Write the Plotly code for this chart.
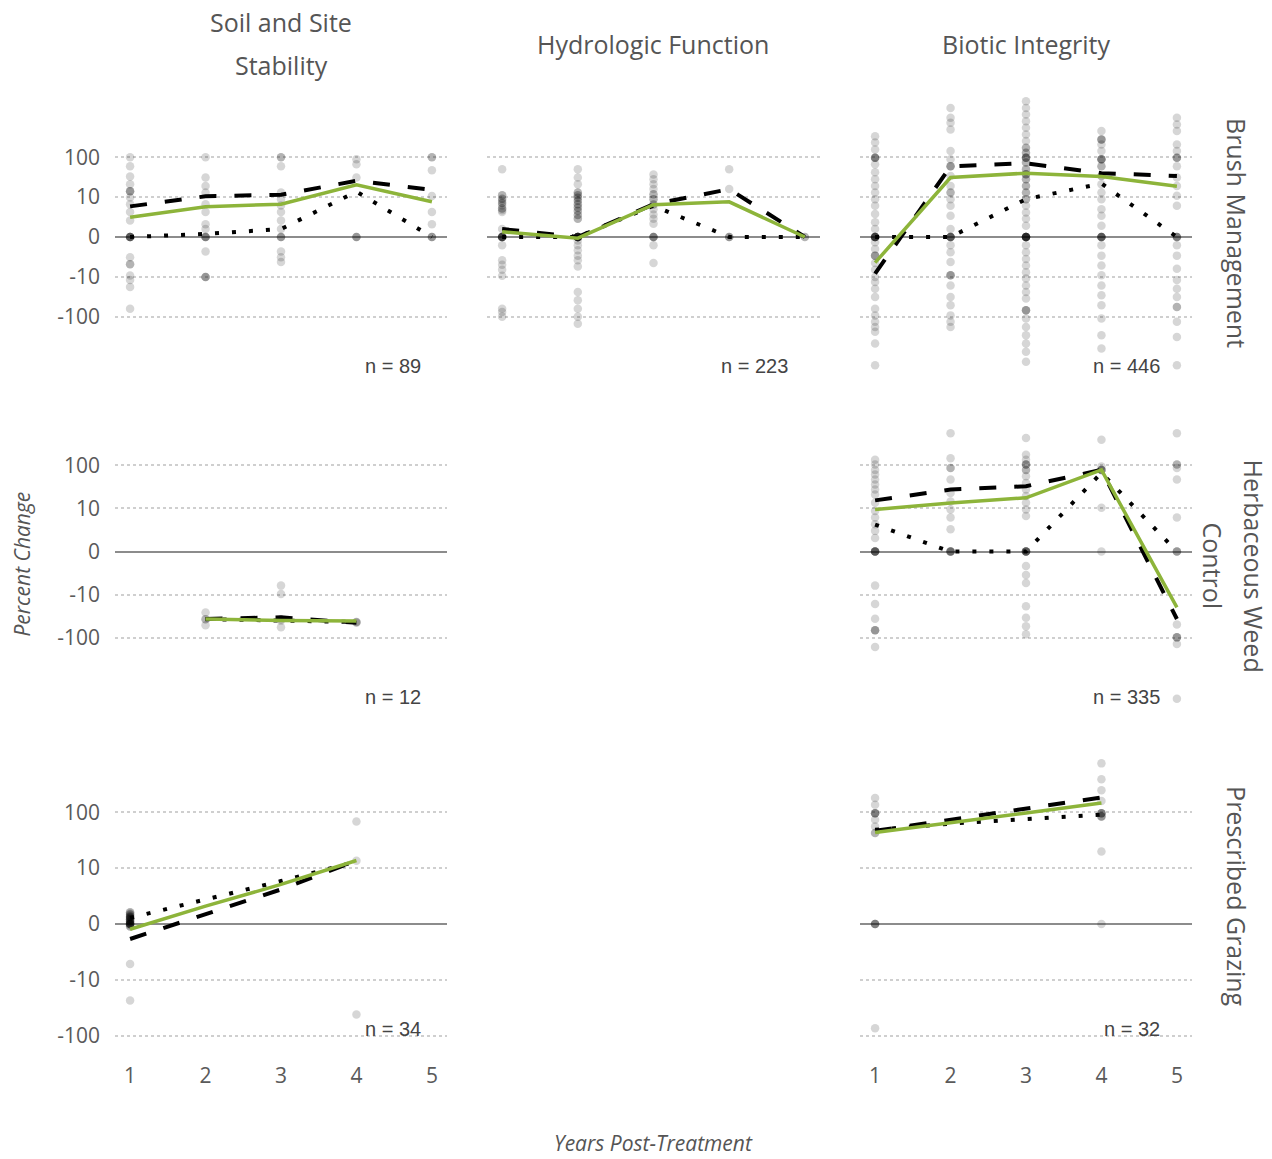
import numpy as np
import plotly.graph_objects as go

# ---------------- data (percent change) ----------------
years = [1, 2, 3, 4, 5]
col_titles = ["Soil and Site", "Stability", "Hydrologic Function", "Biotic Integrity"]
row_titles = ["Brush Management", "Herbaceous Weed", "Control", "Prescribed Grazing"]
ytick_vals = [-100, -10, 0, 10, 100]
ytick_text = ["-100", "-10", "0", "10", "100"]

# Soil and Site Stability / Brush Management
soil_brush_pts = {
    1: [100, 60, 33, 21, 14, 14, 14, 9.7, 6.5, 4.0, 2.2, 0, 0, 0, 0, 0, 0, -2.9, -4.6, -4.6, -9.2, -12, -18, -63],
    2: [100, 31, 19, 13, 6.5, 4.0, 1.6, 0.95, 0, 0, 0, 0, -1.9, -10, -10, -10],
    3: [100, 100, 60, 13, 8.8, 6, 4, 2.2, 0.95, 0, 0, 0, -1.9, -2.9, -4.0],
    4: [89, 67, 31, 0, 0, 0],
    5: [100, 100, 47, 10.6, 4, 1.6, 0, 0, 0],
}
soil_brush_dash = [5.7, 10.4, 11.4, 25.7, 15.1]
soil_brush_solid = [2.8, 5.6, 6.5, 20.4, 7.5]
soil_brush_dot = [0, 0.35, 0.95, 13.7, 0]

# Hydrologic Function / Brush Management
hydro_brush_pts = {
    1: [50, 11, 11, 9, 9, 8, 7, 7, 6, 5, 5, 4.5, 4, 0.95, 0, 0, 0, 0, 0, 0, 0, 0,
        -1.0, -3.6, -4.8, -6.5, -9.3, -63, -76, -100],
    2: [50, 31, 21, 13, 13, 11, 11, 9.5, 9.5, 8, 8, 6.5, 6.5, 5.3, 5.3, 4.3, 4.3, 3.3, 3.3, 2.5, 2.5,
        0, 0, 0, 0, 0, 0, 0, 0, 0, 0, 0, 0,
        -0.42, -1.0, -1.7, -2.6, -3.6, -5.3, -24, -39, -63, -100, -150],
    3: [37, 28, 21, 16, 11.7, 11.7, 8.8, 8.8, 6.4, 6.4, 4.8, 3.4, 2.5, 1.7, 0, 0, 0, 0, -1.0, -4.3],
    4: [50, 16, 0, 0, 0],
    5: [0, 0],
}
hydro_brush_dash = [0.95, 0, 6.5, 15.8, 0]
hydro_brush_solid = [0.6, -0.14, 6.3, 7.5, 0]
hydro_brush_dot = [0, 0, 5.9, 0, 0]

# Biotic Integrity / Brush Management
biotic_brush_pts = {
    1: [340, 234, 158, 98, 98, 98, 98, 67, 42, 28, 19, 13, 8.8, 5.9, 3.5, 1.9, 0.95,
        0, 0, 0, 0, 0, 0, 0, 0, -0.62, -1.5, -2.6, -2.6, -2.6, -4.3, -6.5, -10, -13.5,
        -20, -32, -63, -93, -135, -182, -240, -473, -1660],
    2: [1740, 980, 740, 500, 145, 89, 60, 60, 60, 34, 19, 13, 13, 8.8, 5.9, 3.1, 0.95,
        0, 0, 0, 0, 0, 0, -1.0, -2.0, -4, -9, -9, -9, -16.4, -32, -52, -93, -135, -182],
    3: [2570, 1740, 1190, 810, 550, 375, 257, 174, 174, 131, 131, 98, 98, 98, 98, 74, 74,
        50, 50, 37.5, 37.5, 37.5, 28, 28, 19, 19, 13, 13, 8.8, 8.8, 5.9, 3.9, 2.5, 1.4,
        0, 0, 0, 0, 0, 0, 0, 0, 0, 0, -1.0, -2.0, -3.3, -5.0, -7.5, -11, -16.4, -24, -35,
        -69, -69, -69, -112, -182, -295, -473, -760, -1350],
    4: [457, 282, 282, 282, 211, 145, 89, 89, 89, 89, 60, 60, 34, 34, 21, 13, 8.8, 4.8, 3.1, 1.4,
        0, 0, 0, 0, 0, 0, -1.0, -2.6, -5.0, -9, -16.4, -29, -52, -112, -295, -630],
    5: [980, 670, 457, 211, 145, 98, 98, 98, 60, 31, 19, 10.7, 5.9, 0, 0, 0, 0,
        -1.0, -2.6, -6.1, -12, -20, -32, -57, -57, -135, -323, -1660],
}
biotic_brush_dash = [-8.2, 59, 71, 40, 34]
biotic_brush_solid = [-4.2, 31, 40, 33, 18.6]
biotic_brush_dot = [0, 0, 8.8, 21.9, 0]

# Soil and Site Stability / Herbaceous Weed Control
soil_herb_years = [2, 3, 4]
soil_herb_pts = {
    2: [-26, -37, -37, -51],
    3: [-6, -9.6, -37, -40, -57],
    4: [-43, -43, -45],
}
soil_herb_dash = [-36.5, -33.5, -45]
soil_herb_solid = [-36.5, -40, -41]
soil_herb_dot = [-37, -39, -43]

# Biotic Integrity / Herbaceous Weed Control
biotic_herb_pts = {
    1: [135, 105, 79, 62, 47, 36, 27.5, 21, 13.5, 8.6, 6, 4.1, 2.7, 1.6,
        0, 0, 0, 0, 0, 0, -6, -16.5, -36, -67, -67, -67, -165],
    2: [560, 148, 87, 87, 47, 23, 14.5, 9.4, 6, 3.0, 0, 0, 0, 0, 0],
    3: [436, 178, 135, 105, 105, 105, 79, 79, 56, 39, 27.5, 19.5, 13.5, 9.4, 6.6,
        0, 0, 0, 0, 0, 0, -1.7, -3.2, -5.2, -18.5, -34.5, -54, -83],
    4: [398, 95, 79, 79, 79, 79, 10.4, 0],
    5: [560, 105, 105, 87, 47, 6, 0, 0, 0, -49, -98, -98, -98, -140, -2600],
}
biotic_herb_dash = [15.4, 27.5, 33, 79, -36.7]
biotic_herb_solid = [9.4, 13.4, 17.7, 79, -19.7]
biotic_herb_dot = [4.0, 0, 0, 67.6, 0]

# Soil and Site Stability / Prescribed Grazing
graze_years = [1, 2, 3, 4]
soil_graze_pts = {
    1: [0, 0, 0, 0, 0, 0, 0.2, 0.2, 0.2, 0.4, 0.4, 0.4, 0.6, 0.6, 0.6, 0.8, 0.8, 1.0, 1.0,
        -0.2, -0.2, 0.3, 0.5, 0.7, 0.1, 0.1, 0.9, -0.1, 0.5, -5, -23.6],
    4: [69, 13.6, -42],
}
soil_graze_dash = [-1.32, 0.8, 3.93, 13.7]
soil_graze_solid = [-0.44, 1.61, 4.93, 13.7]
soil_graze_dot = [0.51, 2.39, 5.72, 13.1]

# Biotic Integrity / Prescribed Grazing
biotic_graze_pts = {
    1: [181, 138, 97, 97, 97, 97, 74, 56, 43, 43, 0, 0, 0, 0, -74],
    4: [760, 395, 250, 160, 97, 97, 97, 97, 85, 85, 85, 20, 0],
}
biotic_graze_dash = [46.8, 74, 120, 186]
biotic_graze_solid = [43.6, 64.5, 97.7, 148]
biotic_graze_dot = [49, 63, 76, 91]

n_labels = ["n = 89", "n = 223", "n = 446", "n = 12", "n = 335", "n = 34", "n = 32"]

# ---------------- layout helpers ----------------
W, H = 1272, 1159


def tr(v):
    """pseudo-log (signed) transform used by the y scale"""
    return np.arcsinh(np.asarray(v, dtype=float) / 2.0) / np.log(10)


col_px = [(115, 447), (487, 820), (860, 1192)]
row_px = [(86, 382), (419, 714), (753, 1048)]
row_range = [(-3.6, 3.8), (-3.699, 3.121), (-2.143, 3.125)]
n_label_x = [4.88, 4.8, 4.8]

panels = [
    # row, col, pts, line years, dash, solid, dot, n label
    (0, 0, soil_brush_pts, years, soil_brush_dash, soil_brush_solid, soil_brush_dot, n_labels[0]),
    (0, 1, hydro_brush_pts, years, hydro_brush_dash, hydro_brush_solid, hydro_brush_dot, n_labels[1]),
    (0, 2, biotic_brush_pts, years, biotic_brush_dash, biotic_brush_solid, biotic_brush_dot, n_labels[2]),
    (1, 0, soil_herb_pts, soil_herb_years, soil_herb_dash, soil_herb_solid, soil_herb_dot, n_labels[3]),
    (1, 2, biotic_herb_pts, years, biotic_herb_dash, biotic_herb_solid, biotic_herb_dot, n_labels[4]),
    (2, 0, soil_graze_pts, graze_years, soil_graze_dash, soil_graze_solid, soil_graze_dot, n_labels[5]),
    (2, 2, biotic_graze_pts, graze_years, biotic_graze_dash, biotic_graze_solid, biotic_graze_dot, n_labels[6]),
]

GREEN = "#8db43a"
TXT = "#5a5a5a"
FONT = "Open Sans"
TICK_SIZE = 21

fig = go.Figure()
layout = dict(
    width=W, height=H, margin=dict(l=0, r=0, t=0, b=0),
    paper_bgcolor="white", plot_bgcolor="white", showlegend=False,
    font=dict(family=FONT, color=TXT, size=TICK_SIZE),
)
annotations = []

for i, (r, c, pts, lyears, dash, solid, dot, nlab) in enumerate(panels, start=1):
    xa = "x" if i == 1 else f"x{i}"
    ya = "y" if i == 1 else f"y{i}"
    xs, ys = [], []
    for yr, vals in pts.items():
        xs += [yr] * len(vals)
        ys += list(vals)
    fig.add_trace(go.Scatter(x=xs, y=tr(ys), mode="markers", xaxis=xa, yaxis=ya,
                             marker=dict(size=8.5, color="rgba(0,0,0,0.16)", line=dict(width=0)),
                             hoverinfo="skip"))
    fig.add_trace(go.Scatter(x=lyears, y=tr(dot), mode="lines", xaxis=xa, yaxis=ya,
                             line=dict(color="black", width=4, dash="4px,13px")))
    fig.add_trace(go.Scatter(x=lyears, y=tr(dash), mode="lines", xaxis=xa, yaxis=ya,
                             line=dict(color="black", width=4, dash="17px,18px")))
    fig.add_trace(go.Scatter(x=lyears, y=tr(solid), mode="lines", xaxis=xa, yaxis=ya,
                             line=dict(color=GREEN, width=3.5)))

    xd = [col_px[c][0] / W, col_px[c][1] / W]
    yd = [1 - row_px[r][1] / H, 1 - row_px[r][0] / H]
    key = "" if i == 1 else str(i)
    layout["xaxis" + key] = dict(
        domain=xd, range=[0.8, 5.2], anchor=ya, tickvals=years,
        showticklabels=(r == 2), showgrid=False, zeroline=False, showline=False,
        ticks="", ticklabelstandoff=18, tickfont=dict(size=TICK_SIZE, color=TXT, family=FONT),
    )
    layout["yaxis" + key] = dict(
        domain=yd, range=list(row_range[r]), anchor=xa,
        tickvals=list(tr(ytick_vals)), ticktext=ytick_text,
        showticklabels=(c == 0), showgrid=True, gridcolor="#cfcfcf", griddash="dot",
        gridwidth=1.5, zeroline=True, zerolinecolor="#8c8c8c", zerolinewidth=2,
        showline=False, ticks="", ticklabelstandoff=14,
        tickfont=dict(size=TICK_SIZE, color=TXT, family=FONT),
    )
    annotations.append(dict(
        text=nlab, xref=xa, x=n_label_x[c], xanchor="right", yref=ya + " domain", y=0,
        yanchor="middle", yshift=14, showarrow=False,
        font=dict(family="Liberation Sans", size=20, color="#444"),
    ))


def paper_ann(text, px, py, size=25, angle=0, italic=False):
    annotations.append(dict(
        text=text, xref="paper", yref="paper", x=px / W, y=1 - py / H,
        xanchor="center", yanchor="middle", showarrow=False, textangle=angle,
        font=dict(family=FONT, size=size, color="#555",
                  style="italic" if italic else "normal"),
    ))


paper_ann(col_titles[0], 281, 22)
paper_ann(col_titles[1], 281, 65)
paper_ann(col_titles[2], 653, 44)
paper_ann(col_titles[3], 1026, 44)
paper_ann(row_titles[0], 1237, 234, size=25, angle=90)
paper_ann(row_titles[1], 1254, 568, size=25, angle=90)
paper_ann(row_titles[2], 1213, 568, size=25, angle=90)
paper_ann(row_titles[3], 1237, 900, size=25, angle=90)
paper_ann("Percent Change", 22, 567, size=21, angle=-90, italic=True)
paper_ann("Years Post-Treatment", 653, 1148, size=21, italic=True)

layout["annotations"] = annotations
fig.update_layout(**layout)

fig.write_html("out.html", config={"displayModeBar": False},
               post_script="document.body.style.margin='0';")
